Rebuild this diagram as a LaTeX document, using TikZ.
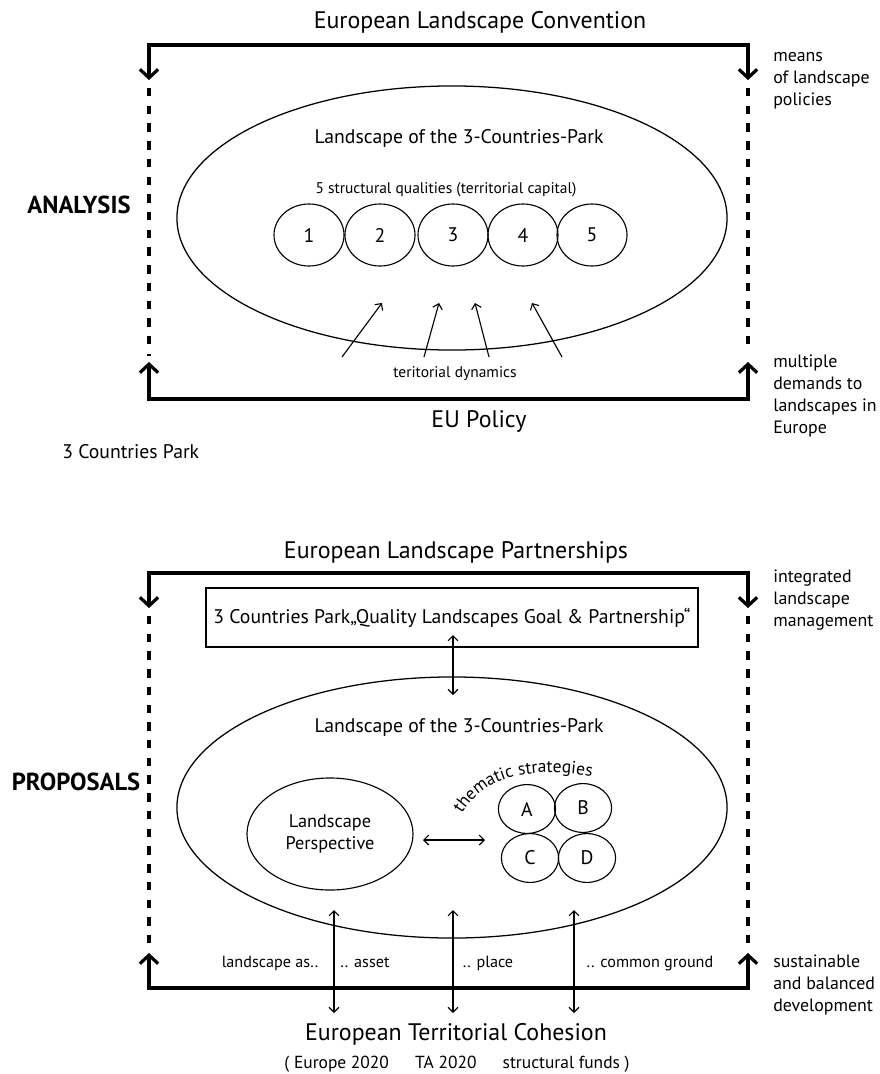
\documentclass[tikz,border=0pt]{standalone}
\usepackage{fontspec}
\setmainfont{PT Sans}
\usetikzlibrary{arrows.meta,shapes.geometric,decorations.text}

\tikzset{
  bigbarb/.tip={Straight Barb[length=6pt,width=13pt]},
  smallbarb/.tip={Straight Barb[length=3.5pt,width=7pt]},
  frame/.style={line width=2.3pt},
  gap/.style={line width=2.3pt, dash pattern=on 6pt off 6.6pt},
  link/.style={line width=0.8pt},
  title/.style={anchor=base, font=\fontsize{17}{20}\selectfont},
  head/.style={anchor=base, font=\fontsize{14}{17}\selectfont},
  small/.style={anchor=base, font=\fontsize{11}{13}\selectfont},
  side/.style={anchor=base, font=\fontsize{17.5}{20}\selectfont\bfseries},
  note/.style={anchor=north west, align=left, inner sep=0pt, font=\fontsize{12.7}{15.6}\selectfont},
  cond/.style={anchor=base, font=\fontsize{11.5}{14}\selectfont},
  park/.style={draw, ellipse, line width=0.9pt, minimum width=13.75cm, minimum height=6.6cm, inner sep=0pt},
  qual/.style={draw, ellipse, line width=0.8pt, minimum width=1.75cm, minimum height=1.55cm, inner sep=0pt, font=\fontsize{14}{16}\selectfont},
  strat/.style={draw, ellipse, line width=0.8pt, minimum width=1.43cm, minimum height=1.22cm, inner sep=0pt, font=\fontsize{14}{16}\selectfont}
}

\begin{document}
\begin{tikzpicture}[x=0.025cm, y=-0.025cm]
\useasboundingbox (0,0) rectangle (880,1074);

% analysis frame
\coordinate (atl) at (149,45);
\coordinate (atr) at (748,45);
\coordinate (abl) at (149,399);
\coordinate (abr) at (748,399);
\coordinate (al1) at (149,80);
\coordinate (ar1) at (748,80);
\coordinate (al2) at (149,362);
\coordinate (ar2) at (748,362);
\draw[frame, bigbarb-bigbarb] (al1) -- (atl) -- (atr) -- (ar1);
\draw[frame, bigbarb-bigbarb] (al2) -- (abl) -- (abr) -- (ar2);
\draw[gap] (149,88) -- (149,356);
\draw[gap] (748,88) -- (748,350);

\node[title] (elc) at (480,28) {European Landscape Convention};
\node[title] (eup) at (479,427) {EU Policy};
\node[side] (ana) at (79,213) {ANALYSIS};
\node[cond, anchor=base west, inner sep=0pt, font=\fontsize{14}{16}\selectfont] (tcp) at (62,458) {3 Countries Park};
\node[note] (means) at (773,52) {means\\of landscape\\policies};
\node[note] (demands) at (773,355) {multiple\\demands to\\landscapes in\\Europe};

\node[park] (park1) at (452,218) {};
\node[head] (lp1) at (459,143) {Landscape of the 3-Countries-Park};
\node[small] (sq) at (446,193) {5 structural qualities (territorial capital)};
\node[qual] (q1) at (309,235) {1};
\node[qual] (q2) at (380,235) {2};
\node[qual] (q3) at (453,235) {3};
\node[qual] (q4) at (523,235) {4};
\node[qual] (q5) at (592,235) {5};

\coordinate (d1) at (342,357); \coordinate (e1) at (382,303);
\coordinate (d2) at (424,357); \coordinate (e2) at (439,303);
\coordinate (d3) at (489,357); \coordinate (e3) at (475,303);
\coordinate (d4) at (562,357); \coordinate (e4) at (532,303);
\draw[link, -smallbarb] (d1) -- (e1);
\draw[link, -smallbarb] (d2) -- (e2);
\draw[link, -smallbarb] (d3) -- (e3);
\draw[link, -smallbarb] (d4) -- (e4);
\node[small] (td) at (455,377) {teritorial dynamics};

% proposals frame
\coordinate (ptl) at (149,573);
\coordinate (ptr) at (748,573);
\coordinate (pbl) at (149,988);
\coordinate (pbr) at (748,988);
\coordinate (pl1) at (149,608);
\coordinate (pr1) at (748,608);
\coordinate (pl2) at (149,953);
\coordinate (pr2) at (748,953);
\draw[frame, bigbarb-bigbarb] (pl1) -- (ptl) -- (ptr) -- (pr1);
\draw[frame, bigbarb-bigbarb] (pl2) -- (pbl) -- (pbr) -- (pr2);
\draw[gap] (149,616) -- (149,946);
\draw[gap] (748,616) -- (748,946);

\node[title] (elp) at (456,558) {European Landscape Partnerships};
\node[side] (prop) at (76,790) {PROPOSALS};
\node[note] (integ) at (773,570) {integrated\\landscape\\management};
\node[note] (sust) at (773,955) {sustainable\\and balanced\\development};

\node[draw, line width=1.2pt, minimum width=12.3cm, minimum height=1.475cm, font=\fontsize{14}{17}\selectfont] (goal) at (452,617.5) {3 Countries Park„Quality Landscapes Goal \& Partnership“};
\coordinate (g1) at (453,635);
\coordinate (g2) at (453,695);
\draw[link, smallbarb-smallbarb] (g1) -- (g2);

\node[park, minimum height=6.525cm] (park2) at (452,807.5) {};
\node[head] (lp2) at (459,732) {Landscape of the 3-Countries-Park};
\node[draw, ellipse, line width=0.8pt, minimum width=4.15cm, minimum height=2.8cm, inner sep=0pt, align=center, font=\fontsize{13}{15.5}\selectfont] (persp) at (330,834) {Landscape\\Perspective};
\node[strat] (sa) at (527,809) {A};
\node[strat] (sb) at (583,808) {B};
\node[strat] (sc) at (530,858) {C};
\node[strat] (sd) at (587,858) {D};
\coordinate (h1) at (423,840);
\coordinate (h2) at (485,840);
\draw[link, smallbarb-smallbarb] (h1) -- (h2);
\path[decorate, decoration={text along path, text align=left,
  text={|\fontsize{12.5}{14}\selectfont|thematic strategies}}]
  (462,814) .. controls (478,788) and (503,775) .. (538,773) .. controls (563,772) and (585,774) .. (610,780);

% landscape as ..
\coordinate (v1t) at (334,910); \coordinate (v1b) at (334,1013);
\coordinate (v2t) at (453,910); \coordinate (v2b) at (453,1013);
\coordinate (v3t) at (574,910); \coordinate (v3b) at (574,1013);
\draw[link, smallbarb-smallbarb] (v1t) -- (v1b);
\draw[link, smallbarb-smallbarb] (v2t) -- (v2b);
\draw[link, smallbarb-smallbarb] (v3t) -- (v3b);
\node[cond] (las) at (270,967) {landscape as..};
\node[cond] (asset) at (365,967) {.. asset};
\node[cond] (place) at (488,967) {.. place};
\node[cond] (ground) at (650,967) {.. common ground};
\node[anchor=base, font=\fontsize{17}{20}\selectfont] (etc) at (456,1040) {European Territorial Cohesion};
\node[cond, font=\fontsize{12.4}{14}\selectfont] (funds) at (457,1068) {( Europe 2020\hspace{1.5em}TA 2020\hspace{1.5em}structural funds )};

\end{tikzpicture}
\end{document}
